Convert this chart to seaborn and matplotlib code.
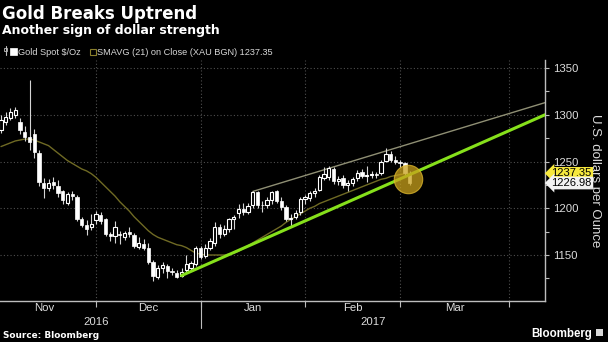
import numpy as np
import pandas as pd
import matplotlib
matplotlib.use("Agg")
import matplotlib.pyplot as plt
import matplotlib.transforms as mtransforms
from matplotlib.patches import Rectangle
import seaborn as sns

# Daily gold spot candles, one per weekday from 1 Nov 2016 to 2 Mar 2017
opens = [1284, 1292, 1297, 1300, 1292, 1282, 1276, 1279, 1259, 1227,
         1222, 1228, 1224, 1218, 1206, 1215, 1212, 1188, 1182, 1180,
         1187, 1193, 1188, 1172, 1170, 1172, 1169, 1175, 1171, 1159,
         1162, 1158, 1143, 1127, 1136, 1138, 1133, 1131, 1128, 1134,
         1136, 1140, 1157, 1149, 1158, 1163, 1180, 1172, 1178, 1188,
         1195, 1199, 1196, 1203, 1217, 1204, 1204, 1209, 1218, 1208,
         1201, 1189, 1191, 1196, 1210, 1211, 1216, 1220, 1232, 1233,
         1242, 1229, 1232, 1225, 1227, 1232, 1239, 1234, 1236, 1237,
         1238, 1251, 1258, 1252, 1249, 1248, 1237]
highs = [1300, 1303, 1307, 1308, 1297, 1288, 1337, 1285, 1262, 1232,
         1231, 1233, 1230, 1220, 1217, 1219, 1214, 1191, 1187, 1194,
         1197, 1196, 1190, 1175, 1186, 1176, 1176, 1180, 1174, 1169,
         1167, 1163, 1145, 1139, 1142, 1140, 1136, 1134, 1136, 1150,
         1144, 1160, 1160, 1162, 1168, 1185, 1183, 1182, 1190, 1193,
         1205, 1206, 1206, 1219, 1219, 1208, 1212, 1219, 1220, 1212,
         1203, 1194, 1198, 1212, 1214, 1219, 1222, 1236, 1244, 1245,
         1244, 1234, 1236, 1230, 1233, 1241, 1242, 1245, 1240, 1239,
         1252, 1264, 1261, 1256, 1252, 1250, 1240]
lows = [1280, 1289, 1294, 1297, 1279, 1272, 1262, 1254, 1224, 1211,
        1219, 1221, 1212, 1205, 1204, 1209, 1186, 1180, 1171, 1177,
        1183, 1183, 1170, 1165, 1163, 1162, 1166, 1169, 1157, 1156,
        1155, 1140, 1122, 1124, 1131, 1125, 1129, 1125, 1126, 1131,
        1134, 1138, 1146, 1147, 1155, 1160, 1168, 1170, 1175, 1178,
        1190, 1193, 1194, 1200, 1200, 1196, 1200, 1205, 1206, 1198,
        1186, 1181, 1188, 1193, 1205, 1208, 1212, 1218, 1230, 1230,
        1226, 1225, 1222, 1219, 1224, 1229, 1232, 1228, 1232, 1232,
        1236, 1249, 1250, 1247, 1244, 1236, 1225]
closes = [1294, 1298, 1303, 1305, 1284, 1276, 1271, 1260, 1228, 1222,
          1227, 1225, 1216, 1209, 1215, 1213, 1188, 1182, 1178, 1183,
          1194, 1186, 1172, 1170, 1180, 1171, 1174, 1172, 1160, 1163,
          1158, 1142, 1128, 1136, 1139, 1133, 1132, 1127, 1132, 1140,
          1141, 1158, 1148, 1158, 1165, 1180, 1172, 1178, 1188, 1191,
          1199, 1196, 1202, 1217, 1204, 1203, 1209, 1217, 1208, 1201,
          1188, 1190, 1195, 1210, 1212, 1216, 1219, 1233, 1237, 1243,
          1229, 1231, 1225, 1227, 1231, 1238, 1234, 1236, 1237, 1236,
          1250, 1258, 1252, 1249, 1248, 1238, 1226.98]
# 21-day simple moving average of the close
sma21 = [1266, 1268, 1270, 1272, 1273, 1274, 1274, 1273, 1271, 1269,
         1267, 1263, 1259, 1255, 1251, 1248, 1245, 1242, 1240, 1237,
         1233, 1228, 1223, 1218, 1213, 1207, 1202, 1197, 1191, 1186,
         1181, 1176, 1172, 1169, 1167, 1165, 1163, 1161, 1160, 1158,
         1155, 1152, 1151, 1150, 1150, 1150, 1150, 1150, 1151, 1152,
         1154, 1157, 1160, 1163, 1166, 1169, 1172, 1175, 1178, 1181,
         1185, 1188, 1191, 1194, 1197, 1200, 1202, 1205, 1207, 1209,
         1211, 1213, 1215, 1217, 1219, 1221, 1223, 1225, 1227, 1229,
         1231, 1232, 1234, 1235, 1236, 1237, 1237.35]

months = ["Nov", "Dec", "Jan", "Feb", "Mar"]
month_first_day = [0, 22, 44, 66, 86, 109]   # weekday index where each month begins
years = ["2016", "2017"]
year_first_month = [0, 2]                     # month position where each year begins

support_x, support_y = [38, 114.5], [1128, 1300]     # uptrend line
resist_x, resist_y = [53, 114.5], [1218, 1313]       # upper channel line
break_x, break_y = [85.7], [1231.5]                  # highlighted break
last_close = closes[-1]
last_sma = sma21[-1]
y_ticks = [1150, 1200, 1250, 1300, 1350]

df = pd.DataFrame({"open": opens, "high": highs, "low": lows,
                   "close": closes, "sma": sma21})
df["day"] = np.arange(len(df))

sns.set_theme(style="dark", rc={
    "axes.facecolor": "black", "figure.facecolor": "black",
    "savefig.facecolor": "black", "axes.edgecolor": "#bdbdbd",
    "text.color": "white",
})
plt.rcParams["font.family"] = ["Liberation Sans", "DejaVu Sans"]

W, H = 608, 342
fig = plt.figure(figsize=(W / 100, H / 100), dpi=100)
ax = fig.add_axes([0, 1 - 301 / H, 545 / W, (301 - 60) / H])
ax.set_facecolor("black")

# candles: filled white when the day closes lower, hollow when it closes higher
up = (df["close"] >= df["open"]).values
body_lo = np.minimum(df["open"], df["close"]).values
body_h = np.maximum((df["close"] - df["open"]).abs().values, 0.9)
ax.vlines(df["day"], df["low"], df["high"], color="#d4d4d4", lw=0.8, zorder=3)
ax.bar(df["day"][~up], body_h[~up], bottom=body_lo[~up], width=0.7,
       color="white", edgecolor="white", linewidth=0.5, zorder=4)
ax.bar(df["day"][up], body_h[up], bottom=body_lo[up], width=0.7,
       color="black", edgecolor="white", linewidth=0.8, zorder=4)

sns.lineplot(data=df, x="day", y="sma", ax=ax, color="#6f6a24", lw=1.0,
             zorder=2, legend=False)
sns.lineplot(x=resist_x, y=resist_y, ax=ax, color="#8f8f74", lw=1.0,
             zorder=2, legend=False)
sns.lineplot(x=support_x, y=support_y, ax=ax, color="#86e01b", lw=2.2,
             zorder=5, legend=False)
ax.scatter(break_x, break_y, s=420, color="#c9a21c", alpha=0.75,
           edgecolor="#e2bb2e", linewidth=0.8, zorder=6)

# axes
edges = [d - 2 for d in month_first_day]
ax.set_xlim(-0.21, 114.5)
ax.set_ylim(1100.8, 1358.6)
ax.set_xlabel("")
ax.set_ylabel("")
for s in ["left", "top"]:
    ax.spines[s].set_visible(False)
for s in ["right", "bottom"]:
    ax.spines[s].set_color("#bdbdbd")
    ax.spines[s].set_linewidth(1.0)

ax.yaxis.tick_right()
ax.set_yticks(y_ticks)
ax.set_yticks([t + 25 for t in y_ticks[:-1]] + [1125], minor=True)
ax.tick_params(axis="y", which="both", right=True, direction="out",
               length=3, width=0.8, color="#bdbdbd", labelcolor="#dcdcdc",
               labelsize=8.2, pad=3)
ax.set_xticks(edges[1:])
ax.set_xticklabels([])
ax.tick_params(axis="x", bottom=True, direction="out", length=4,
               width=0.8, color="#bdbdbd")
ax.grid(True, which="major", ls=(0, (1, 2)), lw=0.8, color="#4f4f4f")

bx = mtransforms.blended_transform_factory(ax.transData, ax.transAxes)
for i, m in enumerate(months):
    ax.text((edges[i] + edges[i + 1]) / 2, -0.031, m, transform=bx,
            ha="center", va="center", fontsize=8.2, color="#dcdcdc")
for j, yr in enumerate(years):
    a = edges[year_first_month[j]]
    b = edges[year_first_month[j + 1]] if j + 1 < len(years) else 114.5
    ax.text((a + b) / 2, -0.086, yr, transform=bx, ha="center",
            va="center", fontsize=8.2, color="#dcdcdc")
for k in year_first_month[1:]:
    ax.plot([edges[k], edges[k]], [0, -0.112], transform=bx, color="#bdbdbd",
            lw=0.8, clip_on=False)

# last-value tags on the price axis
by = mtransforms.blended_transform_factory(ax.transAxes, ax.transData)
ax.text(1.012, last_sma, f"{last_sma:.2f}", transform=by, ha="left",
        va="center", fontsize=8, color="black",
        bbox=dict(boxstyle="larrow,pad=0.12", fc="#f6e83c", ec="none"))
ax.text(1.012, last_close, f"{last_close:.2f}", transform=by, ha="left",
        va="center", fontsize=8, color="black",
        bbox=dict(boxstyle="larrow,pad=0.12", fc="#f2f2f2", ec="none"))

fig.text(595 / W, 1 - 181 / H, "U.S. dollars per Ounce", rotation=270,
         ha="center", va="center", fontsize=9.5, color="#dcdcdc")

# titles
fig.text(2 / W, 1 - 19 / H, "Gold Breaks Uptrend", ha="left",
         va="baseline", fontsize=12, fontweight="bold", color="white",
         family="DejaVu Sans")
fig.text(2 / W, 1 - 34 / H, "Another sign of dollar strength", ha="left",
         va="baseline", fontsize=9, fontweight="bold", color="white",
         family="DejaVu Sans")

# legend row
def fx(px):
    return px / W


def fy(py):
    return 1 - py / H


fig.add_artist(plt.Line2D([fx(5.5), fx(5.5)], [fy(46), fy(55)],
                          color="#bdbdbd", lw=0.8))
fig.add_artist(Rectangle((fx(4), fy(51)), 3 / W, 3 / H, fc="black",
                         ec="#bdbdbd", lw=0.6))
fig.add_artist(Rectangle((fx(10), fy(55)), 6.5 / W, 7 / H, fc="white",
                         ec="white", lw=0.5))
fig.text(fx(18), fy(55), "Gold Spot $/Oz", ha="left", va="baseline",
         fontsize=6.6, color="#d8d8d8")
fig.add_artist(Rectangle((fx(90), fy(55)), 6 / W, 6 / H, fc="none",
                         ec="#8a7f2c", lw=0.8))
fig.text(fx(97), fy(55), "SMAVG (21) on Close (XAU BGN) 1237.35",
         ha="left", va="baseline", fontsize=6.6, color="#d8d8d8")

# footer
fig.text(fx(3), fy(338), "Source: Bloomberg", ha="left", va="baseline",
         fontsize=6.4, fontweight="bold", color="white", family="DejaVu Sans")
fig.text(fx(592), fy(337), "Bloomberg", ha="right", va="baseline",
         fontsize=8.3, fontweight="bold", color="white")
fig.add_artist(Rectangle((fx(596), fy(336)), 7 / W, 7 / H, fc="#d8d8d8",
                         ec="none"))

fig.savefig("out.png", dpi=100, facecolor="black")
